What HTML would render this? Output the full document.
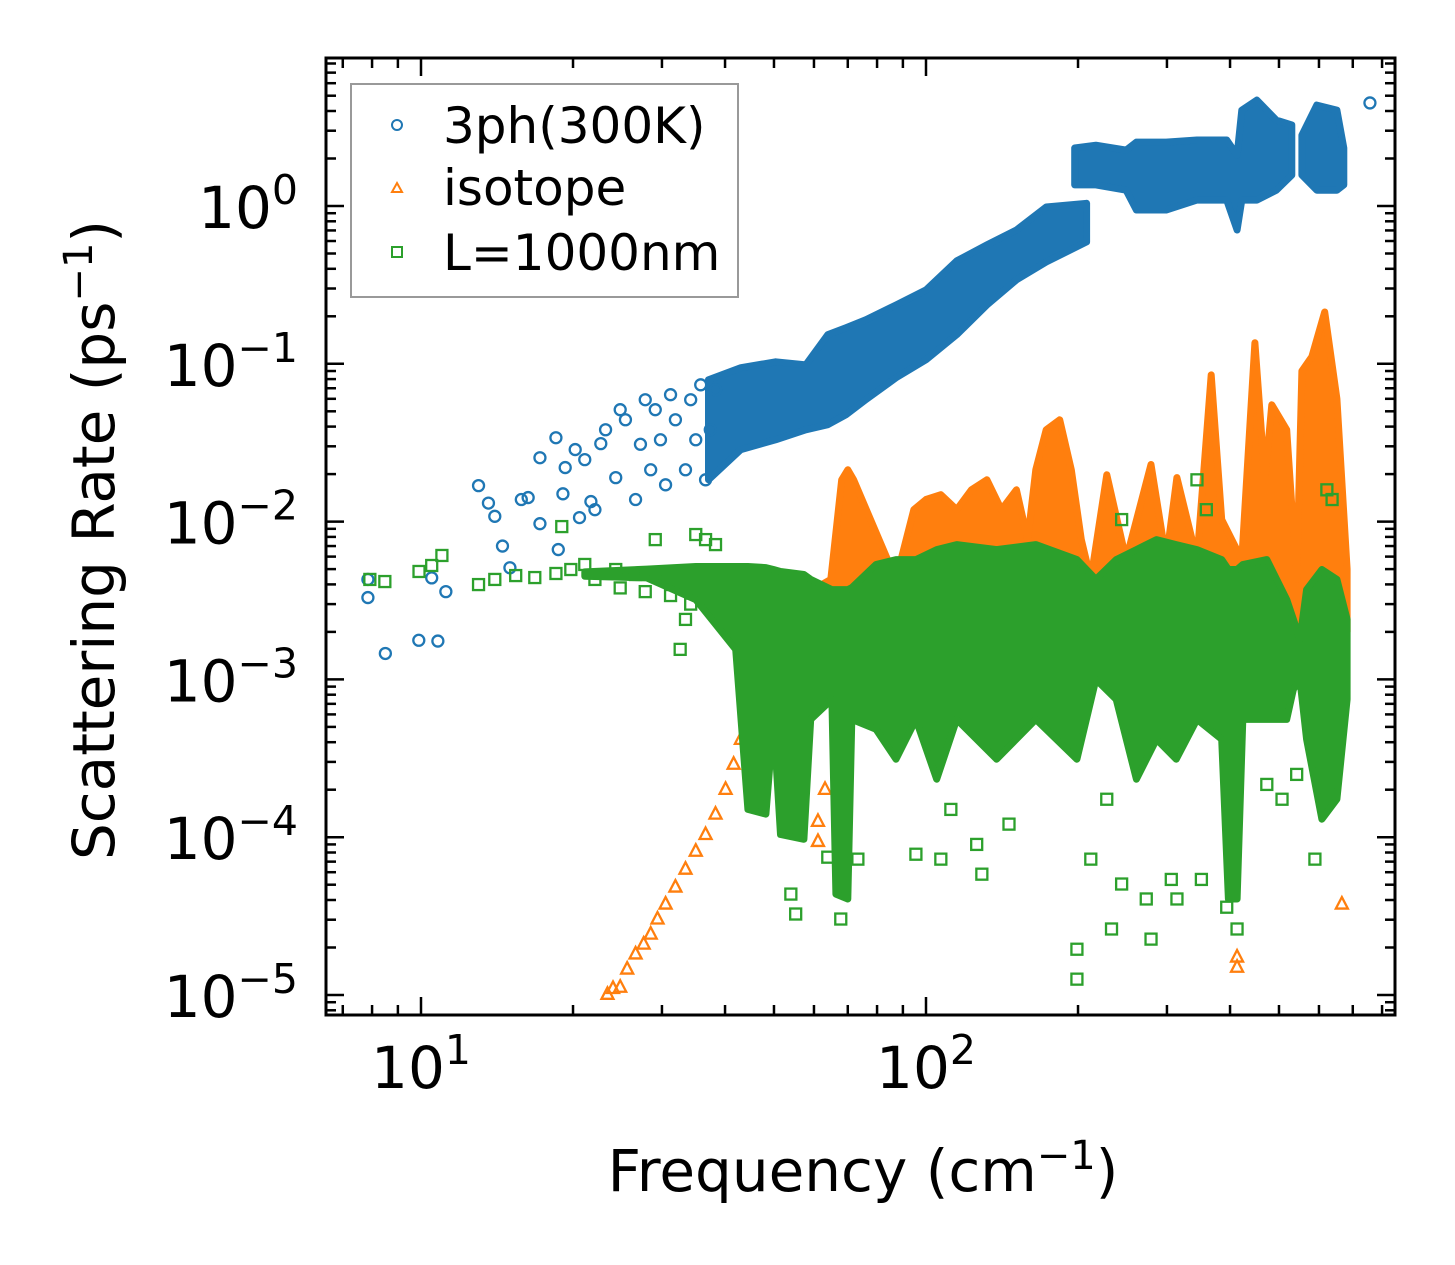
<!DOCTYPE html>
<html><head><meta charset="utf-8"><style>
html,body{margin:0;padding:0;background:#fff;}
svg{display:block;font-family:"DejaVu Sans","Liberation Sans",sans-serif;}
</style></head><body>
<svg id="chart" width="1455" height="1265" viewBox="0 0 1455 1265" xmlns="http://www.w3.org/2000/svg">
<rect x="0" y="0" width="1455" height="1265" fill="#fff"/>
<defs><clipPath id="plotclip"><rect x="326" y="58" width="1069" height="957"/></clipPath></defs>
<g id="marks" clip-path="url(#plotclip)"></g>
<g id="axes"></g>
<rect x="326" y="58" width="1069" height="957" fill="none" stroke="#000" stroke-width="3"/>
<g>
<rect x="351" y="84" width="387" height="213" fill="#fff" fill-opacity="0.8" stroke="#999" stroke-width="2"/>
<circle cx="397" cy="125" r="5" fill="none" stroke="#1f77b4" stroke-width="2"/>
<text x="443" y="143" font-size="50" fill="#000">3ph(300K)</text>
<polygon points="397,183 402,192 392,192" fill="none" stroke="#ff7f0e" stroke-width="2"/>
<text x="443" y="205" font-size="50" fill="#000">isotope</text>
<rect x="392" y="247" width="10" height="10" fill="none" stroke="#2ca02c" stroke-width="2"/>
<text x="443" y="270" font-size="50" fill="#000">L=1000nm</text>
</g>
<text x="863" y="1191" font-size="58" text-anchor="middle" fill="#000">Frequency (cm<tspan dy="-22" font-size="40">−1</tspan><tspan dy="22">)</tspan></text>
<text transform="translate(114,540) rotate(-90)" x="0" y="0" font-size="58" text-anchor="middle" fill="#000">Scattering Rate (ps<tspan dy="-22" font-size="40">−1</tspan><tspan dy="22">)</tspan></text>
</svg>
<script>
// ---- data (frequency in cm^-1, rate in ps^-1) ----
const xTickValues = [10, 100];
const xTickExps = ["1", "2"];
const yTickValues = [1, 0.1, 0.01, 0.001, 0.0001, 0.00001];
const yTickExps = ["0", "−1", "−2", "−3", "−4", "−5"];

// 3ph dense band
const blueBandX  = [37.1,43.0,50.4,57.8,63.9,69.4,76.0,87.2,100,115,132,151,173,208];
const blueBandHi = [0.0792,0.0944,0.103,0.0986,0.153,0.169,0.19,0.236,0.294,0.449,0.567,0.705,0.986,1.04];
const blueBandLo = [0.0184,0.0286,0.033,0.0382,0.0411,0.0475,0.0592,0.0815,0.106,0.153,0.236,0.34,0.442,0.592];
const blueUp1X  = [197,217,249,261,299,344,394,413,422,452,494,530];
const blueUp1Hi = [2.33,2.43,2.26,2.54,2.54,2.62,2.62,2.10,4.05,4.69,3.50,3.26];
const blueUp1Lo = [1.36,1.36,1.26,0.943,0.943,1.09,1.09,0.705,1.09,1.09,1.26,1.57];
const blueUp2X  = [555,594,651,672];
const blueUp2Hi = [2.81,4.36,4.05,2.33];
const blueUp2Lo = [1.57,1.26,1.26,1.36];
// 3ph sparse points
const blueX = [7.85,7.85,8.5,9.9,10.8,10.5,11.2,13.0,13.6,14.0,14.5,15.0,15.8,16.3,17.2,17.2,18.5,18.7,19.1,19.3,20.2,20.6,21.1,21.7,22.1,22.7,23.2,24.3,24.8,25.4,26.6,27.2,27.8,28.5,29.1,29.8,30.5,31.2,31.9,33.4,34.2,35.0,35.8,36.6,37.4,38.3,757];
const blueY = [0.0033,0.0043,0.00146,0.00177,0.00175,0.0044,0.0036,0.0169,0.0131,0.0108,0.007,0.0051,0.0138,0.0142,0.0254,0.0097,0.034,0.00665,0.015,0.022,0.0286,0.0106,0.0247,0.0134,0.0119,0.0312,0.0382,0.019,0.0512,0.0442,0.0138,0.0309,0.0592,0.0213,0.0512,0.033,0.0171,0.0637,0.0442,0.0213,0.0592,0.033,0.0736,0.0184,0.0382,0.0685,4.5];

// isotope dense band
const orangeBandX  = [46.0,55.2,64.8,68.1,70.0,71.9,87.2,94.6,100,107,115,123,132,141,151,159,165,173,184,194,203,212,228,249,279,299,314,344,367,385,422,448,469,484,518,542,555,581,616,651,682];
const orangeBandHi = [0.00179,0.00321,0.0043,0.0184,0.0213,0.0184,0.0043,0.0119,0.0138,0.0148,0.0119,0.0159,0.0184,0.0119,0.0159,0.00769,0.0213,0.0382,0.0442,0.0213,0.00769,0.0043,0.0198,0.00574,0.023,0.00574,0.019,0.00574,0.0851,0.0103,0.00574,0.136,0.0184,0.055,0.0382,0.0043,0.09,0.111,0.213,0.06,0.005];
const orangeBandLo = [0.0005,0.0008,0.0015,0.002,0.002,0.002,0.002,0.002,0.002,0.002,0.002,0.002,0.002,0.002,0.002,0.002,0.002,0.002,0.002,0.002,0.002,0.002,0.002,0.002,0.002,0.002,0.002,0.002,0.002,0.002,0.002,0.002,0.002,0.002,0.002,0.002,0.002,0.002,0.002,0.002,0.002];
// isotope sparse points
const orangeX = [23.4,24.0,24.8,25.6,26.6,27.6,28.5,29.4,30.5,31.9,33.4,35.0,36.6,38.3,40.1,41.6,43.0,44.4,46.0,63.1,61.1,61.1,413,413,666];
const orangeY = [1.01e-5,1.1e-5,1.12e-5,1.46e-5,1.82e-5,2.1e-5,2.43e-5,3.03e-5,3.77e-5,4.83e-5,6.27e-5,8.15e-5,1.04e-4,1.4e-4,2.01e-4,2.9e-4,4.17e-4,5.58e-4,7.47e-4,2.01e-4,1.26e-4,9.4e-5,1.74e-5,1.5e-5,3.77e-5];

// boundary dense band
const greenBandX  = [21.1,28.0,35.0,42.0,44.4,48.2,49.9,51.5,57.3,59.1,65.1,66.3,70.0,71.3,79.6,87.2,95.5,105,115,138,165,199,217,238,261,286,313,344,385,397,413,424,473,518,534,550,567,608,651,682];
const greenBandHi = [0.0048,0.0050,0.00519,0.00519,0.00519,0.00511,0.00497,0.00483,0.00462,0.0043,0.00371,0.00371,0.00371,0.00382,0.00535,0.00574,0.00574,0.00665,0.00715,0.00665,0.00715,0.00574,0.0043,0.00574,0.00665,0.00769,0.00715,0.00665,0.00574,0.00497,0.00497,0.00535,0.00574,0.00321,0.0024,0.00179,0.00371,0.00497,0.0043,0.0024];
const greenBandLo = [0.0045,0.0044,0.0032,0.00155,1.5e-4,1.4e-4,5.58e-4,1.04e-4,9.7e-5,5.58e-4,7.47e-4,4.36e-5,4.06e-5,5.58e-4,4.83e-4,3.12e-4,5.58e-4,2.33e-4,5.58e-4,3.12e-4,5.58e-4,3.12e-4,0.001,7.47e-4,2.33e-4,4.17e-4,3.12e-4,5.58e-4,4.17e-4,4.06e-5,4.06e-5,5.58e-4,5.58e-4,5.58e-4,8.65e-4,0.001,4.17e-4,1.3e-4,1.74e-4,7.47e-4];
// boundary sparse points
const greenX = [7.92,8.48,9.91,10.5,11.0,13.0,14.0,15.4,16.8,18.5,19.0,19.8,21.1,22.1,24.3,26.6,29.1,30.5,32.6,33.4,35.0,36.6,38.3,54.0,55.2,63.9,67.8,73.3,95.5,107,112,126,129,146,199,199,212,228,233,244,273,279,306,314,351,394,413,473,507,542,589,622,637,344,359,622,244,24.8,27.8,31.2,34.2];
const greenY = [0.0043,0.00417,0.00483,0.00527,0.0061,0.00399,0.0043,0.00455,0.00442,0.00469,0.0093,0.00497,0.00535,0.0043,0.00497,0.00462,0.00769,0.0043,0.00155,0.0024,0.00828,0.00769,0.00715,4.36e-5,3.26e-5,7.47e-5,3.03e-5,7.26e-5,7.8e-5,7.26e-5,1.5e-4,9.0e-5,5.83e-5,1.21e-4,1.95e-5,1.26e-5,7.26e-5,1.74e-4,2.62e-5,5.05e-5,4.06e-5,2.26e-5,5.4e-5,4.06e-5,5.4e-5,3.6e-5,2.62e-5,2.16e-4,1.74e-4,2.5e-4,7.26e-5,5.58e-4,0.0138,0.0184,0.0119,0.0159,0.0103,0.0038,0.0036,0.0034,0.0030];

// ---- axis functions ----
const X = v => 421 + (Math.log10(v) - 1) * 505;
const Y = v => 206 - Math.log10(v) * 157.8;
const NS = "http://www.w3.org/2000/svg";
const marks = document.getElementById("marks");
const axes = document.getElementById("axes");
function mk(tag, attrs, parent) {
  const e = document.createElementNS(NS, tag);
  for (const k in attrs) e.setAttribute(k, attrs[k]);
  parent.appendChild(e);
  return e;
}
function band(xs, hi, lo, color, name) {
  const pts = [];
  for (let i = 0; i < xs.length; i++) pts.push(X(xs[i]).toFixed(1) + "," + Y(hi[i]).toFixed(1));
  for (let i = xs.length - 1; i >= 0; i--) pts.push(X(xs[i]).toFixed(1) + "," + Y(lo[i]).toFixed(1));
  const p = mk("polygon", {points: pts.join(" "), fill: color, stroke: color, "stroke-width": 7, "stroke-linejoin": "round"}, marks);
  
  
}
function circles(xs, ys) {
  for (let i = 0; i < xs.length; i++) {
    const c = mk("circle", {cx: X(xs[i]), cy: Y(ys[i]), r: 5.5, fill: "none", stroke: "#1f77b4", "stroke-width": 2.3}, marks);
    
    
  }
}
function tris(xs, ys) {
  for (let i = 0; i < xs.length; i++) {
    const cx = X(xs[i]), cy = Y(ys[i]);
    const t = mk("polygon", {points: `${cx},${cy-7} ${cx+6},${cy+4.5} ${cx-6},${cy+4.5}`, fill: "none", stroke: "#ff7f0e", "stroke-width": 2.3}, marks);
    
    
  }
}
function squares(xs, ys) {
  for (let i = 0; i < xs.length; i++) {
    const s = mk("rect", {x: X(xs[i]) - 5.5, y: Y(ys[i]) - 5.5, width: 11, height: 11, fill: "none", stroke: "#2ca02c", "stroke-width": 2.3}, marks);
    
    
  }
}
band(blueBandX, blueBandHi, blueBandLo, "#1f77b4", "band-3ph-main");
band(blueUp1X, blueUp1Hi, blueUp1Lo, "#1f77b4", "band-3ph-high-1");
band(blueUp2X, blueUp2Hi, blueUp2Lo, "#1f77b4", "band-3ph-high-2");
circles(blueX, blueY);
band(orangeBandX, orangeBandHi, orangeBandLo, "#ff7f0e", "band-isotope");
tris(orangeX, orangeY);
band(greenBandX, greenBandHi, greenBandLo, "#2ca02c", "band-boundary");
squares(greenX, greenY);

// ---- ticks ----
const L = 326, R = 1395, T = 58, B = 1015;
function tick(x1, y1, x2, y2, name) {
  const l = mk("line", {x1, y1, x2, y2, stroke: "#000", "stroke-width": 2.5}, axes);
  
  
}
for (let d = 0; d <= 2; d++) {
  for (let m = 1; m <= 9; m++) {
    const v = m * Math.pow(10, d);
    const px = X(v);
    if (px < L + 1 || px > R - 1) continue;
    const len = m === 1 ? 18 : 10;
    tick(px, B, px, B - len, m === 1 ? 'x-major-tick' : 'x-minor-tick');
    tick(px, T, px, T + len, m === 1 ? 'x-major-tick-top' : 'x-minor-tick-top');
  }
}
for (let d = -6; d <= 0; d++) {
  for (let m = 1; m <= 9; m++) {
    const v = m * Math.pow(10, d);
    const py = Y(v);
    if (py < T + 1 || py > B - 1) continue;
    const len = m === 1 ? 18 : 10;
    tick(L, py, L + len, py, m === 1 ? 'y-major-tick' : 'y-minor-tick');
    tick(R, py, R - len, py, m === 1 ? 'y-major-tick-right' : 'y-minor-tick-right');
  }
}
for (let i = 0; i < xTickValues.length; i++) {
  const t = mk("text", {x: X(xTickValues[i]), y: 1088, "font-size": 58, "text-anchor": "middle", fill: "#000"}, axes);
  
  
  t.innerHTML = `10<tspan dy="-24" font-size="41">${xTickExps[i]}</tspan>`;
}
for (let i = 0; i < yTickValues.length; i++) {
  const t = mk("text", {x: 298, y: Y(yTickValues[i]) + 22, "font-size": 58, "text-anchor": "end", fill: "#000"}, axes);
  
  
  t.innerHTML = `10<tspan dy="-24" font-size="41">${yTickExps[i]}</tspan>`;
}
</script>
</body></html>
